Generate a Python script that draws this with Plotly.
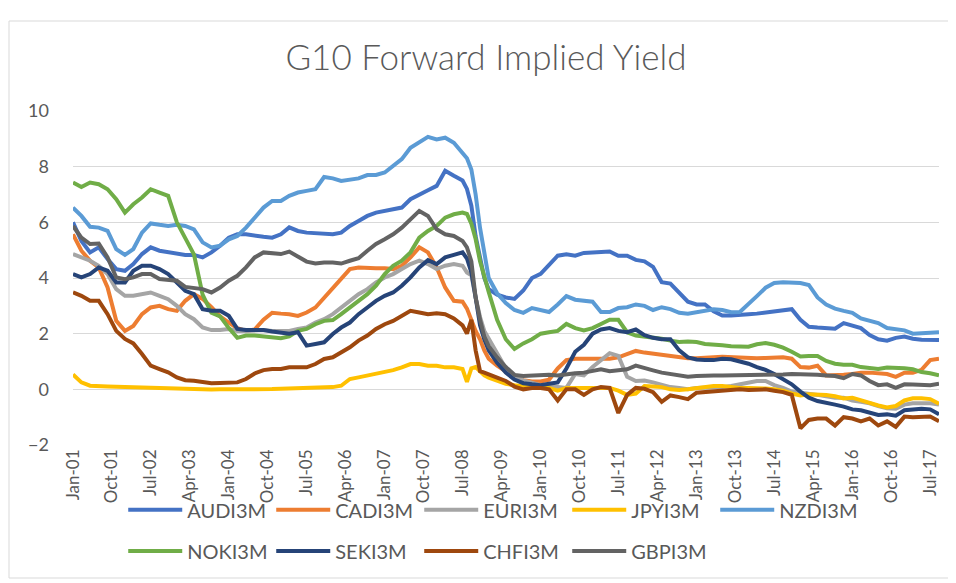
import plotly.graph_objects as go

# month offsets from Jan-2001 (every 2 months, plus extra points during the 2008 crash)
MONTHS = [0, 2, 4, 6, 8, 10, 12, 14, 16, 18, 20, 22, 24, 26, 28, 30, 32, 34, 36, 38, 40, 42, 44, 46, 48,
          50, 52, 54, 56, 58, 60, 62, 64, 66, 68, 70, 72, 74, 76, 78, 80, 82, 84, 86, 88, 90,
          91, 92, 93, 94, 95, 96,
          98, 100, 102, 104, 106, 108, 110, 112, 114, 116, 118, 120, 122, 124, 126, 128, 130, 132, 134, 136,
          138, 140, 142, 144, 146, 148, 150, 152, 154, 156, 158, 160, 162, 164, 166, 168, 170, 172, 174, 176,
          178, 180, 182, 184, 186, 188, 190, 192, 194, 196, 198, 200]

dates = [f"{2001 + m // 12}-{m % 12 + 1:02d}-01" for m in MONTHS]

AUD = [6.0, 5.33, 4.92, 5.1, 4.68, 4.32, 4.26, 4.5, 4.86, 5.1, 4.98, 4.92, 4.86, 4.83, 4.83, 4.74, 4.92, 5.16, 5.45, 5.57, 5.57, 5.51, 5.48, 5.45, 5.57,
       5.82, 5.69, 5.63, 5.6, 5.57, 5.57, 5.63, 5.87, 6.05, 6.23, 6.35, 6.41, 6.47, 6.53, 6.83, 7.01, 7.15, 7.31, 7.85, 7.67, 7.5,
       7.2, 6.6, 5.5, 4.7, 4.0, 3.6,
       3.4, 3.3, 3.25, 3.55, 4.0, 4.15, 4.45, 4.8, 4.85, 4.8, 4.9, 4.92, 4.92, 4.95, 4.8, 4.8, 4.65, 4.6, 4.4, 3.85,
       3.8, 3.45, 3.15, 3.05, 3.05, 2.8, 2.65, 2.65, 2.66, 2.7, 2.72, 2.76, 2.8, 2.85, 2.88, 2.5, 2.25, 2.22, 2.2, 2.18,
       2.38, 2.3, 2.2, 1.95, 1.8, 1.75, 1.85, 1.9, 1.82, 1.78, 1.78, 1.77]

CAD = [5.57, 4.98, 4.62, 4.38, 3.66, 2.46, 2.1, 2.28, 2.7, 2.94, 3.0, 2.88, 2.82, 3.18, 3.42, 3.25, 2.95, 2.62, 2.4, 2.2, 2.1, 2.15, 2.5, 2.75, 2.72,
       2.7, 2.64, 2.76, 2.94, 3.3, 3.66, 3.96, 4.32, 4.38, 4.35, 4.35, 4.35, 4.32, 4.44, 4.74, 5.1, 4.92, 4.38, 3.66, 3.18, 3.15,
       2.9, 2.5, 2.1, 1.8, 1.4, 1.1,
       0.85, 0.65, 0.45, 0.33, 0.28, 0.28, 0.35, 0.75, 1.05, 1.1, 1.1, 1.1, 1.1, 1.1, 1.15, 1.25, 1.38, 1.32, 1.28, 1.25,
       1.22, 1.15, 1.12, 1.12, 1.15, 1.15, 1.17, 1.15, 1.13, 1.12, 1.12, 1.13, 1.15, 1.15, 1.1, 0.8, 0.78, 0.85, 0.5, 0.5,
       0.52, 0.55, 0.6, 0.6, 0.58, 0.55, 0.45, 0.6, 0.6, 0.7, 1.05, 1.1]

EUR = [4.86, 4.74, 4.62, 4.44, 4.14, 3.6, 3.36, 3.36, 3.42, 3.48, 3.36, 3.24, 3.0, 2.7, 2.52, 2.22, 2.13, 2.13, 2.17, 2.1, 2.1, 2.13, 2.13, 2.1, 2.1,
       2.1, 2.17, 2.22, 2.4, 2.52, 2.7, 2.94, 3.18, 3.42, 3.6, 3.84, 4.02, 4.14, 4.32, 4.5, 4.62, 4.5, 4.32, 4.44, 4.5, 4.44,
       4.2, 4.1, 3.3, 2.6, 2.1, 1.8,
       1.3, 0.75, 0.45, 0.32, 0.25, 0.15, 0.12, 0.1, 0.05, 0.55, 0.5, 0.8, 1.05, 1.3, 1.2, 0.45, 0.3, 0.32, 0.25, 0.18,
       0.08, 0.05, 0.0, 0.05, 0.05, 0.08, 0.08, 0.12, 0.18, 0.22, 0.3, 0.3, 0.15, 0.05, -0.08, -0.12, -0.15, -0.2, -0.25, -0.3,
       -0.3, -0.4, -0.45, -0.5, -0.6, -0.68, -0.7, -0.55, -0.5, -0.5, -0.5, -0.55]

JPY = [0.53, 0.25, 0.13, 0.1, 0.1, 0.09, 0.08, 0.08, 0.05, 0.04, 0.03, 0.02, 0.0, 0.02, 0.01, -0.01, -0.01, 0.0, 0.0, -0.02, 0.0, 0.0, 0.01, 0.01, 0.02,
       0.03, 0.03, 0.04, 0.05, 0.05, 0.08, 0.13, 0.37, 0.43, 0.49, 0.55, 0.61, 0.69, 0.79, 0.91, 0.91, 0.85, 0.85, 0.79, 0.79, 0.73,
       0.27, 0.75, 0.8, 0.65, 0.5, 0.42,
       0.3, 0.2, 0.15, 0.1, 0.08, 0.07, 0.05, -0.05, 0.05, 0.05, 0.05, 0.07, 0.08, 0.05, -0.05, -0.2, -0.15, 0.12, 0.1, 0.08,
       0.0, -0.02, 0.0, 0.05, 0.08, 0.12, 0.12, 0.08, 0.05, 0.05, 0.05, 0.03, 0.0, -0.05, -0.15, -0.22, -0.18, -0.18, -0.2, -0.25,
       -0.33, -0.3, -0.4, -0.48, -0.58, -0.65, -0.6, -0.4, -0.32, -0.32, -0.35, -0.52]

NZD = [6.53, 6.23, 5.84, 5.81, 5.69, 5.04, 4.83, 5.04, 5.63, 5.96, 5.91, 5.87, 5.91, 5.87, 5.75, 5.28, 5.1, 5.16, 5.39, 5.51, 5.81, 6.17, 6.53, 6.77, 6.77,
       6.95, 7.07, 7.13, 7.19, 7.63, 7.58, 7.49, 7.55, 7.58, 7.7, 7.7, 7.79, 8.03, 8.27, 8.68, 8.86, 9.07, 8.98, 9.04, 8.86, 8.45,
       8.3, 7.9, 7.0, 5.8, 4.8, 4.0,
       3.45, 3.1, 2.85, 2.75, 2.92, 2.85, 2.78, 3.05, 3.35, 3.22, 3.2, 3.15, 2.78, 2.78, 2.92, 2.95, 3.05, 3.0, 2.85, 2.95,
       2.88, 2.75, 2.72, 2.78, 2.85, 2.88, 2.85, 2.77, 2.78, 3.05, 3.35, 3.65, 3.82, 3.85, 3.85, 3.82, 3.75, 3.3, 3.05, 2.9,
       2.82, 2.75, 2.55, 2.48, 2.38, 2.2, 2.17, 2.12, 2.0, 2.0, 2.03, 2.05]

NOK = [7.43, 7.27, 7.43, 7.37, 7.19, 6.83, 6.35, 6.65, 6.89, 7.19, 7.07, 6.95, 6.0, 5.45, 4.85, 3.4, 2.75, 2.62, 2.2, 1.85, 1.93, 1.93, 1.89, 1.87, 1.84,
       1.9, 2.1, 2.17, 2.34, 2.46, 2.49, 2.7, 2.94, 3.18, 3.42, 3.72, 4.14, 4.44, 4.62, 4.92, 5.45, 5.69, 5.87, 6.17, 6.29, 6.35,
       6.3, 5.95, 5.4, 4.6, 4.0, 3.5,
       2.5, 1.8, 1.45, 1.65, 1.8, 2.0, 2.05, 2.1, 2.35, 2.2, 2.12, 2.2, 2.35, 2.5, 2.5, 2.05, 1.93, 1.9, 1.85, 1.82,
       1.75, 1.7, 1.72, 1.7, 1.63, 1.62, 1.58, 1.55, 1.55, 1.53, 1.62, 1.66, 1.6, 1.5, 1.35, 1.18, 1.2, 1.2, 1.02, 0.92,
       0.88, 0.88, 0.8, 0.76, 0.73, 0.78, 0.78, 0.76, 0.72, 0.62, 0.58, 0.5]

SEK = [4.14, 4.02, 4.14, 4.38, 4.26, 3.84, 3.84, 4.26, 4.44, 4.44, 4.32, 4.14, 3.84, 3.54, 3.42, 2.88, 2.82, 2.82, 2.64, 2.17, 2.13, 2.13, 2.13, 2.08, 2.05,
       2.0, 2.05, 1.57, 1.63, 1.69, 1.99, 2.22, 2.4, 2.7, 2.94, 3.18, 3.36, 3.48, 3.72, 4.02, 4.38, 4.64, 4.5, 4.74, 4.83, 4.92,
       4.7, 4.2, 3.3, 2.3, 1.8, 1.4,
       0.95, 0.6, 0.35, 0.22, 0.18, 0.15, 0.2, 0.25, 0.75, 1.35, 1.6, 2.0, 2.15, 2.2, 2.1, 2.05, 2.15, 1.95, 1.85, 1.8,
       1.8, 1.4, 1.15, 1.07, 1.05, 1.05, 1.1, 1.08, 1.0, 0.92, 0.8, 0.7, 0.55, 0.38, 0.18, -0.08, -0.3, -0.42, -0.5, -0.55,
       -0.62, -0.72, -0.75, -0.85, -0.92, -0.9, -0.95, -0.75, -0.72, -0.7, -0.72, -0.9]

CHF = [3.48, 3.36, 3.18, 3.18, 2.7, 2.1, 1.81, 1.65, 1.27, 0.85, 0.73, 0.61, 0.43, 0.33, 0.31, 0.25, 0.22, 0.23, 0.25, 0.25, 0.37, 0.57, 0.69, 0.73, 0.73,
       0.79, 0.79, 0.79, 0.91, 1.09, 1.15, 1.33, 1.51, 1.75, 1.93, 2.17, 2.34, 2.46, 2.64, 2.82, 2.76, 2.7, 2.73, 2.7, 2.55, 2.3,
       2.0, 2.5, 1.4, 0.65, 0.6, 0.55,
       0.42, 0.3, 0.1, 0.0, 0.05, 0.05, 0.0, -0.4, 0.0, 0.0, -0.2, 0.0, 0.08, 0.05, -0.85, -0.2, 0.05, 0.02, -0.1, -0.45,
       -0.22, -0.28, -0.35, -0.12, -0.1, -0.05, -0.05, -0.02, 0.0, -0.02, 0.0, 0.0, -0.05, -0.1, -0.2, -1.4, -1.1, -1.05, -1.05, -1.3,
       -1.0, -1.05, -1.15, -1.05, -1.3, -1.15, -1.35, -0.98, -1.0, -1.0, -0.98, -1.15]

GBP = [5.87, 5.45, 5.22, 5.24, 4.74, 4.02, 3.96, 4.02, 4.14, 4.14, 3.96, 3.92, 3.9, 3.68, 3.64, 3.6, 3.48, 3.66, 3.9, 4.08, 4.38, 4.74, 4.92, 4.88, 4.86,
       4.95, 4.76, 4.59, 4.52, 4.56, 4.56, 4.52, 4.62, 4.71, 4.98, 5.22, 5.39, 5.57, 5.81, 6.11, 6.41, 6.23, 5.75, 5.57, 5.51, 5.33,
       5.1, 4.6, 3.3, 2.5, 1.9, 1.55,
       1.15, 0.8, 0.52, 0.48, 0.5, 0.52, 0.52, 0.5, 0.55, 0.58, 0.6, 0.67, 0.72, 0.65, 0.68, 0.72, 0.85, 0.78, 0.68, 0.6,
       0.55, 0.48, 0.45, 0.48, 0.5, 0.5, 0.5, 0.5, 0.52, 0.52, 0.52, 0.53, 0.53, 0.53, 0.55, 0.55, 0.55, 0.52, 0.5, 0.48,
       0.4, 0.55, 0.5, 0.3, 0.15, 0.18, 0.05, 0.18, 0.17, 0.15, 0.15, 0.2]

series = [
    ("AUDI3M", AUD, "#4472C4", "legend"),
    ("CADI3M", CAD, "#ED7D31", "legend"),
    ("EURI3M", EUR, "#A5A5A5", "legend"),
    ("JPYI3M", JPY, "#FFC000", "legend"),
    ("NZDI3M", NZD, "#5B9BD5", "legend"),
    ("NOKI3M", NOK, "#70AD47", "legend2"),
    ("SEKI3M", SEK, "#264478", "legend2"),
    ("CHFI3M", CHF, "#9E480E", "legend2"),
    ("GBPI3M", GBP, "#636363", "legend2"),
]

fig = go.Figure()
for name, vals, color, lg in series:
    fig.add_trace(go.Scatter(x=dates, y=vals, mode="lines", name=name, legend=lg,
                             line=dict(color=color, width=4)))

GREY = "#595959"
FONT = "Lato, 'Open Sans', sans-serif"

# page body has an 8px margin, so the plot box is placed 8px up/left of the target
L, T, W, H = 65, 103, 866, 334

legend_style = dict(orientation="h", xanchor="left", yanchor="middle",
                    entrywidth=79, entrywidthmode="pixels", itemwidth=54,
                    font=dict(family=FONT, size=20, color=GREY),
                    bgcolor="rgba(0,0,0,0)")

fig.update_layout(
    width=956, height=583,
    margin=dict(l=L, r=956 - L - W, t=T, b=583 - T - H),
    paper_bgcolor="white", plot_bgcolor="white",
    font=dict(family=FONT, color=GREY),
    title=dict(text="G10 Forward Implied Yield", x=0.5, xanchor="center",
               y=0.914, yanchor="middle", yref="container",
               font=dict(family=FONT, size=35, color=GREY, weight=300)),
    xaxis=dict(type="date", range=["2001-01-01", "2017-09-01"],
               tick0="2001-01-01", dtick="M9", tickformat="%b-%y",
               tickangle=-90, showgrid=False, zeroline=False, showline=False,
               ticks="", tickfont=dict(family=FONT, size=17, color=GREY)),
    yaxis=dict(range=[-2, 10], dtick=2, showgrid=True, gridcolor="#D9D9D9", gridwidth=1,
               zeroline=False, showline=False, ticks="", ticklabelstandoff=23,
               tickfont=dict(family=FONT, size=18, color=GREY)),
    legend=dict(x=0.058, y=-0.194, **legend_style),
    legend2=dict(x=0.058, y=-0.317, **legend_style),
    shapes=[dict(type="rect", xref="paper", yref="paper",
                 x0=(9 - 73) / W, x1=(949 - 73) / W,
                 y0=(445 - 578) / H, y1=(445 - 21) / H,
                 line=dict(color="#D9D9D9", width=1), fillcolor="rgba(0,0,0,0)", layer="below")],
)

fig.write_html("out.html")
